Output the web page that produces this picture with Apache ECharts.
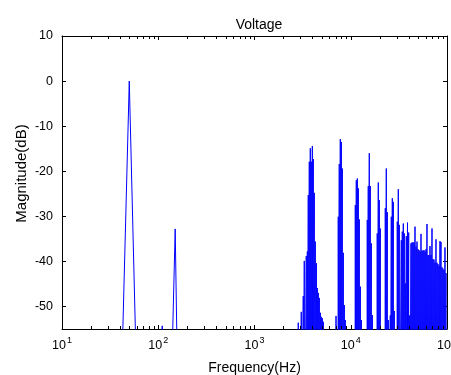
<!DOCTYPE html>
<html>
<head>
<meta charset="utf-8">
<script src="https://cdn.jsdelivr.net/npm/echarts@6/dist/echarts.min.js"></script>
<style>
html, body { margin: 0; padding: 0; background: #fff; }
#chart { width: 451px; height: 375px; }
</style>
</head>
<body>
<div id="chart"></div>
<script>
// ---- Data ----
const titleText = 'Voltage';
const xName = 'Frequency(Hz)';
const yName = 'Magnitude(dB)';

const xMin = 10, xMax = 100000;
const yMin = -55, yMax = 10;

// Low-frequency spectral bins (Hz) and magnitudes (dB)
const lfFreq = [40, 50, 60, 100, 110, 120, 140, 150, 160];
const lfMag  = [-80, 0, -69, -70, -54.3, -70, -59, -32.8, -72];

// Switching-frequency spectral lines (Hz) and magnitudes (dB)
const spikeFreq = [
  2850, 3060, 3210, 3290, 3450, 3540, 3620, 3710, 3800, 3890, 3990, 4080, 4180, 4280, 4390, 4490, 4600, 4710, 4830, 4940, 5060, 5190,
  7030, 7420, 7600, 7790, 7980, 8170, 8370, 8570, 8780,
  11150, 11420, 11700, 11980, 12270, 12570, 12870,
  14850, 15210, 15580, 15960, 16350, 16750,
  18850, 19330, 19800, 20280,
  22850, 23410, 23980, 24550, 25760, 26380, 27030, 27680, 28350,
  30450, 31190, 31950, 33510, 34320, 35160, 36010, 36880, 37760, 38860, 40000, 40980,
  42270, 43290, 44360, 45420, 46520, 47640, 48800, 49980, 51190, 52430, 53700, 55000,
  56310, 57680, 59070, 60500, 61970, 63470, 65010, 66580, 68190, 69850, 71510, 73250,
  75020, 76840, 78700, 80600, 82560, 84550, 86600, 88700, 90870, 93070, 95320, 97630
];
const spikeMag = [
  -53.6, -51.2, -47.7, -39.9, -38.8, -37.8, -25.3, -17.9, -14.9, -17.9, -14.4, -17.3, -24.8, -35.6, -40.4, -45.9, -47, -48.1, -51.4, -52.3, -52.6, -53.4,
  -52.1, -30.1, -18.4, -12.9, -13.5, -19.4, -38.1, -49.7, -53,
  -27.5, -22, -21.6, -23.8, -30.7, -45.6, -53,
  -30.8, -23.3, -16, -23.3, -36, -51.9,
  -33.8, -22.5, -26.4, -32.7,
  -28.2, -19.4, -29.1, -53, -52, -30.1, -26, -26.8, -51,
  -31.2, -24, -31.9, -35.3, -33.4, -31.6, -33.8, -44.9, -34.4, -31.4, -33.6, -52,
  -36, -35.8, -35.8, -35.8, -32.3, -36.7, -35.6, -37.3, -37.5, -37.8, -33.9, -37.6,
  -37.6, -37.5, -37.8, -37.3, -31.7, -38.6, -38.6, -36.6, -38.6, -32.7, -39.5, -39.6,
  -40.3, -35.1, -40.3, -40.6, -41, -35.5, -35.7, -41.3, -41.6, -41.9, -36.9, -42.6
];
// Spectrum floor next to each line (below the visible range) and bin width
const floorMag = -100;
const binHz = 10;

// Minor tick values of the log axis
const minorTicks = [];
[10, 100, 1000, 10000].forEach(d => { for (let k = 2; k <= 9; k++) minorTicks.push(k * d); });

// ---- Build series data ----
const pts = [];
lfFreq.forEach((f, i) => pts.push([f, lfMag[i]]));
spikeFreq.forEach((f, i) => {
  pts.push([f - binHz, floorMag]);
  pts.push([f, spikeMag[i]]);
  pts.push([f + binHz, floorMag]);
});
pts.sort((a, b) => a[0] - b[0]);

const FONT = '"Liberation Sans", Arial, Helvetica, sans-serif';
const BLACK = '#000000';

const chart = echarts.init(document.getElementById('chart'), null, { renderer: 'canvas' });

const option = {
  animation: false,
  backgroundColor: '#ffffff',
  textStyle: { fontFamily: FONT, color: BLACK },
  title: {
    text: titleText,
    left: 254,
    top: 13,
    textAlign: 'center',
    textStyle: { fontFamily: FONT, fontSize: 14, fontWeight: 'normal', color: BLACK }
  },
  grid: { left: 62, right: 4, top: 36, bottom: 46, containLabel: false, outerBoundsMode: 'none' },
  xAxis: [
    {
      type: 'log', logBase: 10, min: xMin, max: xMax, position: 'bottom',
      name: xName, nameLocation: 'middle', nameGap: 32, nameMoveOverlap: false,
      nameTextStyle: { fontFamily: FONT, fontSize: 14, color: BLACK },
      axisLine: { show: true, onZero: false, lineStyle: { color: BLACK, width: 1 } },
      axisTick: { show: true, inside: true, length: 4, lineStyle: { color: BLACK } },
      splitLine: { show: false },
      axisLabel: {
        margin: 7,
        formatter: v => '{b|10}{s|' + Math.round(Math.log10(v)) + '}',
        rich: {
          b: { fontFamily: FONT, fontSize: 12.5, color: BLACK, lineHeight: 14, padding: [6, 0, 0, 0] },
          s: { fontFamily: FONT, fontSize: 9, color: BLACK, lineHeight: 10, verticalAlign: 'top', padding: [0, 0, 0, 1] }
        }
      }
    },
    {
      type: 'log', logBase: 10, min: xMin, max: xMax, position: 'top',
      axisLine: { show: true, onZero: false, lineStyle: { color: BLACK, width: 1 } },
      axisTick: { show: true, inside: true, length: 4, lineStyle: { color: BLACK } },
      axisLabel: { show: false },
      splitLine: { show: false }
    }
  ],
  yAxis: [
    {
      type: 'value', min: yMin, max: yMax, splitNumber: 6, position: 'left',
      name: yName, nameLocation: 'middle', nameRotate: 90, nameGap: 33, nameMoveOverlap: false,
      nameTextStyle: { fontFamily: FONT, fontSize: 15, color: BLACK, padding: [0, 0, 0, 18] },
      axisLine: { show: true, onZero: false, lineStyle: { color: BLACK, width: 1 } },
      axisTick: { show: true, inside: true, length: 4, lineStyle: { color: BLACK } },
      axisLabel: { showMinLabel: false, margin: 9, fontFamily: FONT, fontSize: 12.5, color: BLACK },
      splitLine: { show: false }
    },
    {
      type: 'value', min: yMin, max: yMax, splitNumber: 6, position: 'right',
      axisLine: { show: true, onZero: false, lineStyle: { color: BLACK, width: 1 } },
      axisTick: { show: true, inside: true, length: 4, lineStyle: { color: BLACK } },
      axisLabel: { show: false },
      splitLine: { show: false }
    }
  ],
  series: [
    {
      type: 'line',
      xAxisIndex: 0, yAxisIndex: 0,
      data: pts,
      showSymbol: false,
      symbol: 'none',
      clip: true,
      lineStyle: { color: '#0000ff', width: 1 },
      itemStyle: { color: '#0000ff' },
      silent: true,
      z: 2
    },
    {
      type: 'custom',
      xAxisIndex: 0, yAxisIndex: 0,
      data: minorTicks.map(v => [v]),
      silent: true,
      z: 5,
      renderItem: (params, api) => {
        const x = api.value(0);
        const b = api.coord([x, yMin]);
        const t = api.coord([x, yMax]);
        const px = Math.round(b[0]) + 0.5;
        return {
          type: 'group',
          children: [
            { type: 'line', shape: { x1: px, y1: b[1], x2: px, y2: b[1] - 3 }, style: { stroke: BLACK, lineWidth: 1 } },
            { type: 'line', shape: { x1: px, y1: t[1], x2: px, y2: t[1] + 3 }, style: { stroke: BLACK, lineWidth: 1 } }
          ]
        };
      }
    }
  ]
};

chart.setOption(option);
</script>
</body>
</html>
